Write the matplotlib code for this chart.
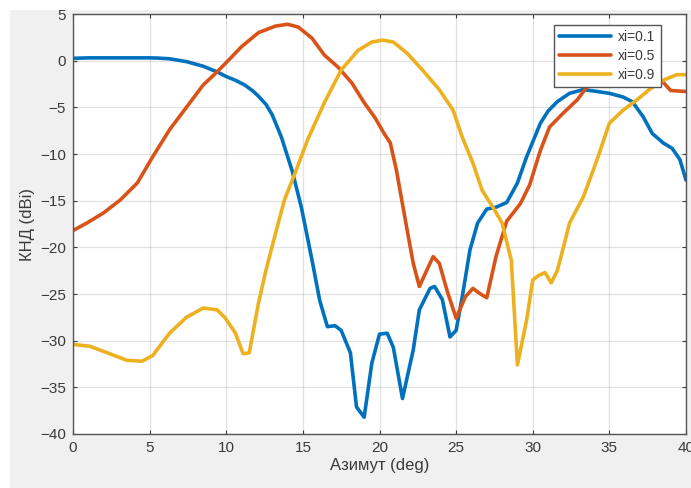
import matplotlib
matplotlib.use("Agg")
import matplotlib.pyplot as plt
from matplotlib.patches import Rectangle

# Azimuth samples (deg) and directivity (dBi) for each xi value
az_01 = [0, 1, 2, 3, 4, 5, 5.5, 6.3, 7.4, 8.5, 9.4, 10.0, 10.6, 11.2, 11.7, 12.1, 12.6,
         13.0, 13.6, 14.3, 14.9, 15.6, 16.1, 16.6, 17.1, 17.5, 18.1, 18.5, 19.0, 19.5,
         20.0, 20.5, 20.9, 21.5, 22.2, 22.6, 23.3, 23.6, 24.1, 24.6, 25.0, 25.4, 25.9,
         26.4, 27.0, 27.6, 28.3, 29.0, 29.6, 30.5, 31.0, 31.6, 32.4, 33.3, 34.2, 35.0,
         35.9, 36.5, 37.2, 37.8, 38.5, 39.1, 39.6, 40.0]
dbi_01 = [0.25, 0.3, 0.3, 0.3, 0.3, 0.3, 0.28, 0.2, -0.1, -0.6, -1.2, -1.7, -2.1, -2.6,
          -3.2, -3.8, -4.7, -5.8, -8.2, -11.8, -15.7, -21.4, -25.7, -28.5, -28.4, -28.9,
          -31.3, -37.1, -38.2, -32.4, -29.3, -29.2, -30.7, -36.2, -31.0, -26.7, -24.4,
          -24.2, -25.6, -29.6, -28.9, -25.3, -20.3, -17.4, -15.9, -15.7, -15.2, -13.1,
          -10.3, -6.7, -5.4, -4.4, -3.5, -3.1, -3.3, -3.5, -3.9, -4.4, -6.0, -7.8, -8.8,
          -9.4, -10.6, -12.8]

az_05 = [0, 0.9, 2.0, 3.1, 4.2, 5.2, 6.3, 7.4, 8.5, 9.4, 10.0, 11.0, 12.1, 13.2, 14.0,
         14.7, 15.6, 16.4, 17.3, 18.2, 19.0, 19.7, 20.3, 20.7, 21.1, 21.7, 22.2, 22.6,
         23.1, 23.5, 23.9, 24.4, 25.0, 25.6, 26.1, 26.5, 27.0, 27.6, 28.3, 29.2, 29.8,
         30.5, 31.1, 32.0, 32.9, 33.5, 34.0, 35.0, 36.0, 37.0, 38.0, 38.5, 39.0, 40.0]
dbi_05 = [-18.2, -17.4, -16.3, -14.9, -13.1, -10.3, -7.4, -5.0, -2.6, -1.2, -0.2, 1.5,
          3.0, 3.7, 3.9, 3.6, 2.4, 0.6, -0.7, -2.4, -4.5, -6.1, -7.8, -8.8, -11.7, -17.2,
          -21.7, -24.2, -22.4, -21.0, -21.7, -24.6, -27.6, -25.3, -24.4, -24.9, -25.4,
          -21.0, -17.2, -15.3, -13.3, -9.6, -7.1, -5.6, -4.2, -2.9, -2.4, -1.9, -1.6,
          -1.7, -2.0, -2.3, -3.2, -3.3]

az_09 = [0, 1.1, 2.4, 3.5, 4.5, 5.2, 6.3, 7.4, 8.5, 9.4, 9.9, 10.6, 11.1, 11.5, 12.1,
         12.6, 13.2, 13.8, 14.5, 15.3, 16.4, 17.5, 18.6, 19.5, 20.2, 20.9, 21.8, 22.8,
         23.9, 24.8, 25.4, 26.1, 26.7, 27.4, 28.0, 28.6, 29.0, 29.6, 30.0, 30.4, 30.8,
         31.2, 31.6, 32.0, 32.4, 33.3, 34.2, 35.0, 35.9, 36.8, 37.6, 38.5, 39.4, 40.0]
dbi_09 = [-30.4, -30.6, -31.4, -32.1, -32.2, -31.6, -29.2, -27.5, -26.5, -26.7, -27.5,
          -29.2, -31.4, -31.3, -26.0, -22.4, -18.6, -14.9, -12.0, -8.5, -4.5, -1.0, 1.1,
          2.0, 2.2, 2.0, 0.8, -1.0, -3.1, -5.3, -8.2, -11.0, -13.9, -15.7, -17.4, -21.4,
          -32.6, -27.8, -23.5, -23.0, -22.7, -23.8, -22.5, -20.0, -17.4, -14.6, -10.6,
          -6.7, -5.3, -4.2, -3.1, -2.1, -1.5, -1.5]

labels = ["xi=0.1", "xi=0.5", "xi=0.9"]
colors = ["#0072BD", "#D95319", "#EDB120"]

x_ticks = [0, 5, 10, 15, 20, 25, 30, 35, 40]
y_ticks = [-40, -35, -30, -25, -20, -15, -10, -5, 0, 5]

plt.rcParams["font.family"] = ["Liberation Sans", "DejaVu Sans"]

W, H = 691, 488
fig = plt.figure(figsize=(W / 100, H / 100), dpi=100)
fig.patch.set_facecolor("white")
# grey panel behind the axes
fig.add_artist(Rectangle((10 / W, 0), 1 - 10 / W, (H - 10) / H,
                         transform=fig.transFigure, facecolor="#f0f0f0",
                         edgecolor="none", zorder=-10))

ax = fig.add_axes([73 / W, 1 - 434 / H, (686 - 73) / W, (434 - 14) / H])
ax.set_facecolor("white")

for xs, ys, lab, col in zip([az_01, az_05, az_09], [dbi_01, dbi_05, dbi_09], labels, colors):
    ax.plot(xs, ys, color=col, lw=2.6, label=lab,
            solid_joinstyle="round", solid_capstyle="round")

ax.set_xlim(0, 40)
ax.set_ylim(-40, 5)
ax.set_xticks(x_ticks)
ax.set_yticks(y_ticks)
ax.grid(True, color="#262626", alpha=0.13, lw=0.9)
ax.set_axisbelow(True)
ax.tick_params(direction="in", top=True, right=True, length=3,
               labelsize=11, colors="#3a3a3a", pad=5)
for sp in ax.spines.values():
    sp.set_color("#555555")
    sp.set_linewidth(1.0)

ax.set_xlabel("Азимут (deg)", fontsize=12, color="#3a3a3a", labelpad=2)
ax.set_ylabel("КНД (dBi)", fontsize=12, color="#3a3a3a", labelpad=4)

leg = ax.legend(loc="upper right", bbox_to_anchor=(0.963, 0.98), fontsize=10,
                fancybox=False, framealpha=1, edgecolor="#555555",
                handlelength=3.8, borderpad=0.35, labelspacing=0.35, handletextpad=0.5,
                borderaxespad=0.2)
leg.get_frame().set_linewidth(1.0)
for t in leg.get_texts():
    t.set_color("#3a3a3a")

fig.savefig("out.png", dpi=100)
